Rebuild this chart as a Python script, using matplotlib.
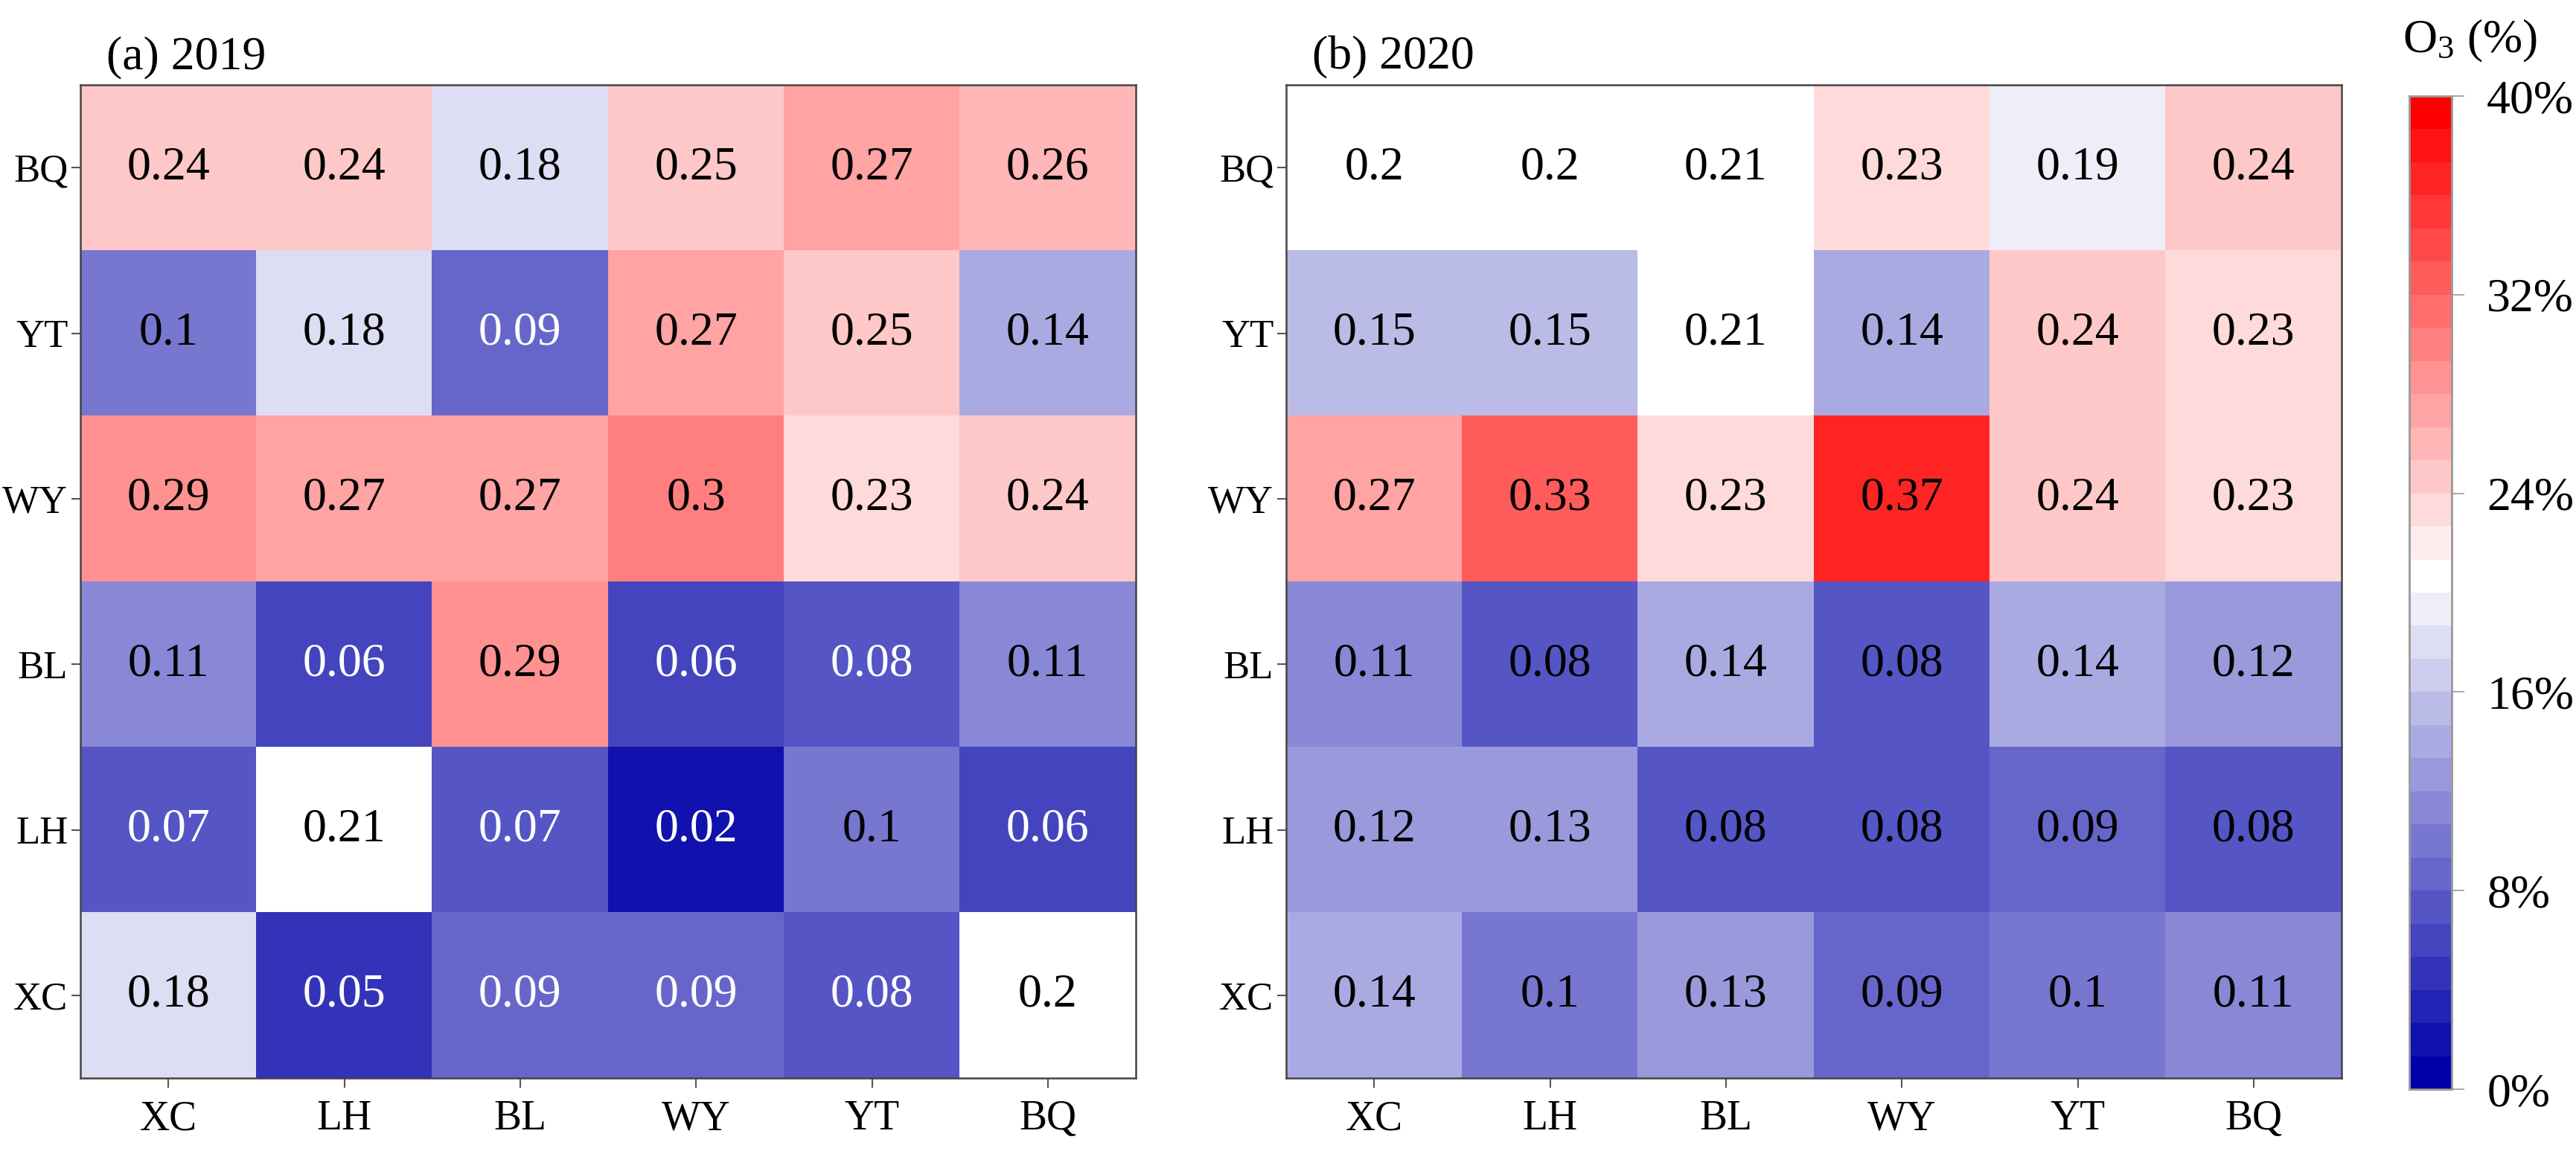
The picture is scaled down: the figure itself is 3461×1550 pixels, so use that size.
import numpy as np
import matplotlib
matplotlib.use("Agg")
import matplotlib.pyplot as plt
from matplotlib.colors import ListedColormap, Normalize
from matplotlib.ticker import FuncFormatter

plt.rc("font", family="Liberation Serif", size=46)
plt.rc("mathtext", fontset="custom", rm="Liberation Serif", it="Liberation Serif")

sites = ["XC", "LH", "BL", "WY", "YT", "BQ"]
rows = ["BQ", "YT", "WY", "BL", "LH", "XC"]  # top to bottom

o3_2019 = [
    [0.24, 0.24, 0.18, 0.25, 0.27, 0.26],
    [0.10, 0.18, 0.09, 0.27, 0.25, 0.14],
    [0.29, 0.27, 0.27, 0.30, 0.23, 0.24],
    [0.11, 0.06, 0.29, 0.06, 0.08, 0.11],
    [0.07, 0.21, 0.07, 0.02, 0.10, 0.06],
    [0.18, 0.05, 0.09, 0.09, 0.08, 0.20],
]
o3_2020 = [
    [0.20, 0.20, 0.21, 0.23, 0.19, 0.24],
    [0.15, 0.15, 0.21, 0.14, 0.24, 0.23],
    [0.27, 0.33, 0.23, 0.37, 0.24, 0.23],
    [0.11, 0.08, 0.14, 0.08, 0.14, 0.12],
    [0.12, 0.13, 0.08, 0.08, 0.09, 0.08],
    [0.14, 0.10, 0.13, 0.09, 0.10, 0.11],
]
titles = ["(a) 2019", "(b) 2020"]
white_below = [0.095, 0.0]   # annotation turns white under this value
cbar_ticks = [0, 0.08, 0.16, 0.24, 0.32, 0.40]

# 30 discrete steps: dark blue -> white (at 0.2) -> red
dark = np.array([0.0, 0.0, 0.66])
white = np.array([1.0, 1.0, 1.0])
red = np.array([1.0, 0.0, 0.0])
cols = [dark + (white - dark) * k / 15 for k in range(16)]
cols += [white + (red - white) * k / 14 for k in range(1, 15)]
cmap = ListedColormap(cols)
norm = Normalize(0, 0.4)

W, H = 3461, 1550
fig = plt.figure(figsize=(W / 100, H / 100), dpi=100)

lefts = [108, 1728]
for i, data in enumerate([o3_2019, o3_2020]):
    arr = np.array(data)
    ax = fig.add_axes([lefts[i] / W, (H - 1448) / H, 1418 / W, 1334 / H])
    im = ax.imshow(arr, cmap=cmap, norm=norm, aspect="auto")
    for r in range(arr.shape[0]):
        for c in range(arr.shape[1]):
            v = arr[r, c]
            ax.text(c, r, f"{v:g}", ha="center", va="center",
                    color="white" if v < white_below[i] else "black")
    ax.set_xticks(range(len(sites)), sites)
    ax.set_yticks(range(len(rows)), rows)
    ax.tick_params(length=9, width=1.5, color="#555555")
    ax.tick_params(axis="x", pad=12, labelsize=40)
    ax.tick_params(axis="y", pad=3, labelsize=38)
    for s in ax.spines.values():
        s.set_color("#444444")
        s.set_linewidth(1.8)
    ax.text(35 / 1418, 1 + 22 / 1334, titles[i], transform=ax.transAxes,
            ha="left", va="baseline")

cax = fig.add_axes([3237 / W, (H - 1463) / H, 57 / W, 1334 / H])
cb = fig.colorbar(im, cax=cax, ticks=cbar_ticks,
                  format=FuncFormatter(lambda v, p: f"{v * 100:.0f}%"))
cb.outline.set_edgecolor("#999999")
cb.outline.set_linewidth(2)
cax.tick_params(length=12, width=1.2, color="#999999", pad=22)
fig.text(3228 / W, 1 - 70 / H, "O$_3$ (%)", ha="left", va="baseline")

fig.savefig("out.png", dpi=100)
